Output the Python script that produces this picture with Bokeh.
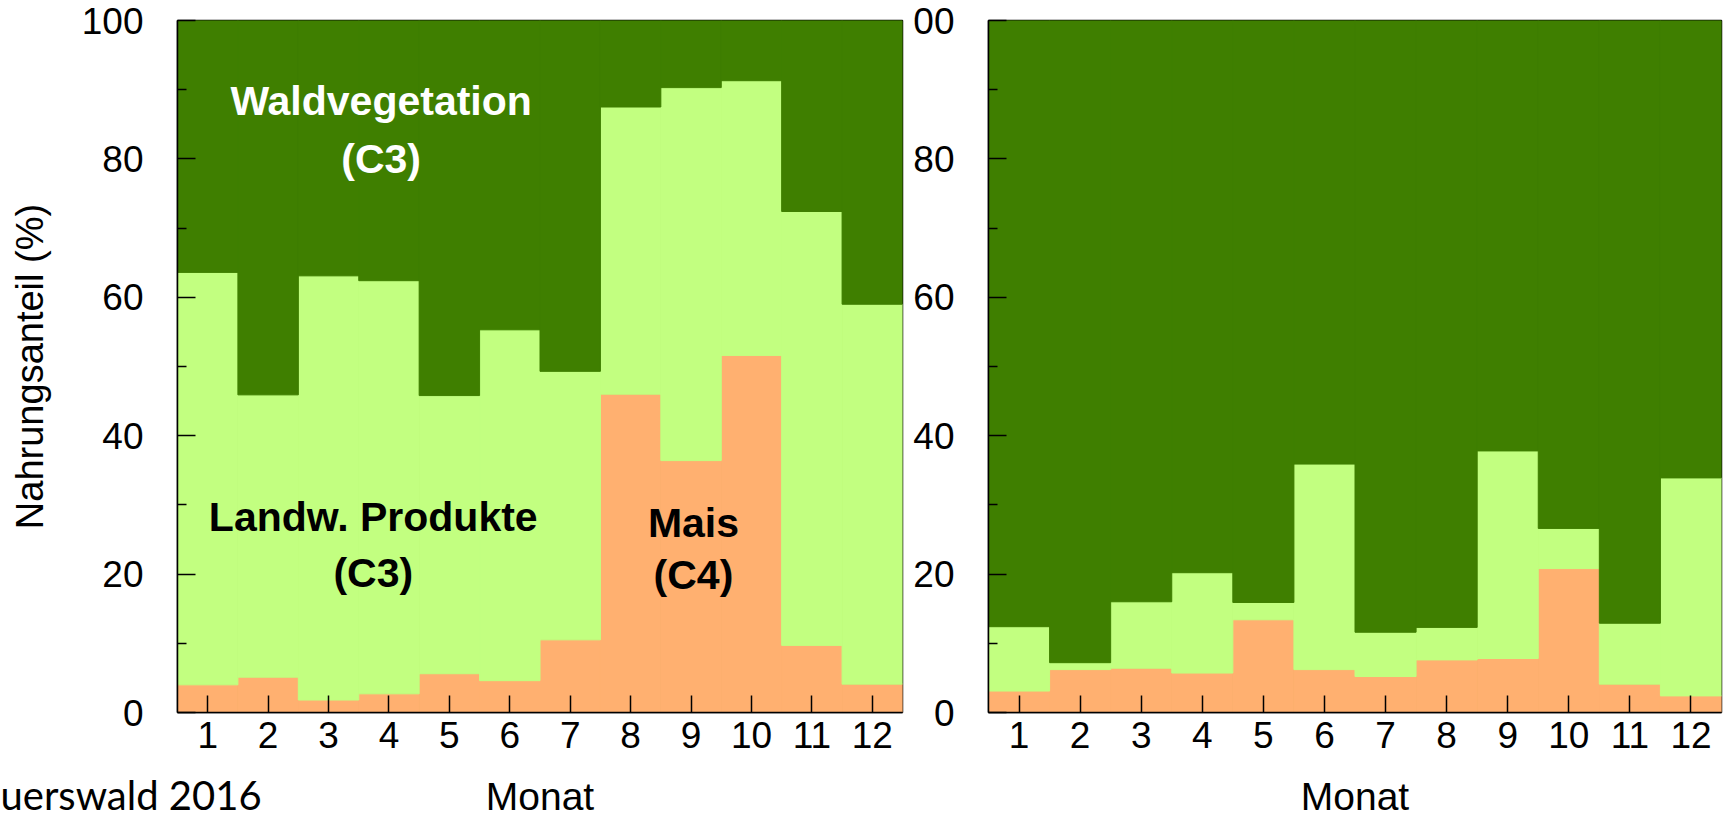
import numpy as np
from bokeh.plotting import figure
from bokeh.models import Label, FixedTicker, Range1d
from bokeh.layouts import row, column
from bokeh.core.properties import value
from bokeh.embed import file_html
from bokeh.resources import INLINE

# ---------------- data ----------------
months = list(range(1, 13))
month_labels = [str(m) for m in months]

# left panel (shares in %)
left_mais = [4.0, 5.1, 1.8, 2.7, 5.6, 4.6, 10.5, 46.0, 36.4, 51.6, 9.7, 4.1]
left_landw = [59.6, 40.8, 61.3, 59.7, 40.2, 50.7, 38.8, 41.5, 53.9, 39.7, 62.7, 54.9]

# right panel (shares in %)
right_mais = [3.1, 6.2, 6.4, 5.7, 13.4, 6.2, 5.2, 7.6, 7.8, 20.8, 4.1, 2.4]
right_landw = [9.3, 1.0, 9.6, 14.5, 2.5, 29.7, 6.4, 4.7, 30.0, 5.8, 8.8, 31.5]

y_ticks = [0, 20, 40, 60, 80, 100]
y_minor = [10, 30, 50, 70, 90]

x_title = "Monat"
y_title = "Nahrungsanteil (%)"
caption = "uerswald 2016"

DARK = "#3f7f00"
LIGHT = "#c2ff80"
ORANGE = "#ffb070"
FONT = "Liberation Sans"

H = 768
TOP = 20
BOTTOM = 56
CAP_H = 52


def make_panel(mais, landw, width, b_left, b_right, overrides=None, ytitle=None):
    wald = [100 - m - l for m, l in zip(mais, landw)]
    src = dict(month=months, mais=mais, landw=landw, wald=wald)
    p = figure(width=width, height=H, x_range=Range1d(0.5, 12.5), y_range=Range1d(0, 100),
               output_backend="svg", toolbar_location=None, title=None,
               min_border_left=b_left, min_border_right=b_right,
               min_border_top=TOP, min_border_bottom=BOTTOM)
    p.background_fill_color = DARK
    p.border_fill_color = "white"
    p.vbar_stack(["mais", "landw", "wald"], x="month", width=1.0,
                 fill_color=[ORANGE, LIGHT, DARK], line_color=[ORANGE, LIGHT, DARK],
                 line_width=1, source=src)
    p.grid.visible = False
    p.outline_line_color = "black"
    p.outline_line_width = 1.5

    p.xaxis.ticker = FixedTicker(ticks=months)
    p.xaxis.major_label_overrides = {m: s for m, s in zip(months, month_labels)}
    p.xaxis.major_tick_in = 17
    p.xaxis.major_tick_out = 0
    p.xaxis.minor_tick_in = 0
    p.xaxis.minor_tick_out = 0
    p.xaxis.major_label_standoff = 9

    p.yaxis.ticker = FixedTicker(ticks=y_ticks, minor_ticks=y_minor)
    p.yaxis.major_tick_in = 18
    p.yaxis.major_tick_out = 0
    p.yaxis.minor_tick_in = 9
    p.yaxis.minor_tick_out = 0
    p.yaxis.major_label_standoff = 34
    if overrides:
        p.yaxis.major_label_overrides = overrides
    if ytitle:
        p.yaxis.axis_label = ytitle
        p.yaxis.axis_label_text_font = FONT
        p.yaxis.axis_label_text_font_size = "38px"
        p.yaxis.axis_label_text_font_style = "normal"
        p.yaxis.axis_label_text_color = "black"
        p.yaxis.axis_label_standoff = 28

    for ax in (p.xaxis[0], p.yaxis[0]):
        ax.axis_line_color = "black"
        ax.axis_line_width = 1.5
        ax.major_tick_line_color = "black"
        ax.major_tick_line_width = 1.5
        ax.minor_tick_line_color = "black"
        ax.minor_tick_line_width = 1.5
        ax.major_label_text_font = FONT
        ax.major_label_text_font_size = "37px"
        ax.major_label_text_color = "black"
    return p


W1, BL1, BR1 = 906, 177, 4
W2, BL2, BR2 = 824, 82, 9

left = make_panel(left_mais, left_landw, W1, BL1, BR1, ytitle=y_title)
right = make_panel(right_mais, right_landw, W2, BL2, BR2, overrides={100: "00"})


def add_text(p, x, y, text, size, color="black", bold=True):
    p.add_layout(Label(x=x, y=y, text=text, text_align="center", text_baseline="middle",
                       text_font=FONT, text_font_size=size, text_color=color,
                       text_font_style="bold" if bold else "normal"))


# category labels (left panel)
add_text(left, 3.87, 88.4, "Waldvegetation", "41px", color="white")
add_text(left, 3.87, 80.0, "(C3)", "41px", color="white")
add_text(left, 3.74, 28.3, "Landw. Produkte", "41px")
add_text(left, 3.74, 20.2, "(C3)", "41px")
add_text(left, 9.04, 27.4, "Mais", "41px")
add_text(left, 9.04, 19.8, "(C4)", "41px")

# caption strip below the panels (x titles and source note), pixel coordinates
TOTAL_W = W1 + W2
cap = figure(width=TOTAL_W, height=CAP_H, x_range=Range1d(0, TOTAL_W), y_range=Range1d(CAP_H, 0),
             output_backend="svg", toolbar_location=None, title=None,
             x_axis_location=None, y_axis_location=None,
             min_border_left=0, min_border_right=0, min_border_top=0, min_border_bottom=0)
cap.grid.visible = False
cap.outline_line_color = None
cap.background_fill_color = "white"
cap.border_fill_color = "white"

left_center = BL1 + (W1 - BL1 - BR1) / 2.0
right_center = W1 + BL2 + (W2 - BL2 - BR2) / 2.0
cap.text(x=[left_center, right_center], y=[28, 28], text=[x_title, x_title],
         text_align="center", text_baseline="alphabetic",
         text_font=value(FONT), text_font_size="39px", text_color="black")
cap.text(x=[0], y=[26], text=[caption], text_align="left", text_baseline="alphabetic",
         text_font=value("Lato"), text_font_size="40px", text_color="black")

layout = column(row(left, right, spacing=0), cap, spacing=0)
open("out.html", "w").write(file_html(layout, INLINE))
